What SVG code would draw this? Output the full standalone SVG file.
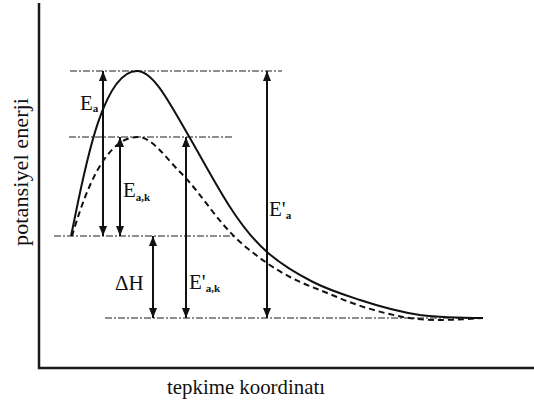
<svg xmlns="http://www.w3.org/2000/svg" width="534" height="405" viewBox="0 0 534 405">
<style>
.axis{stroke:#1a1a1a;stroke-width:2.5;fill:none}
.level{stroke:#6a6a6a;stroke-width:1.5;stroke-dasharray:7 2 2 2;fill:none}
.solid{stroke:#111;stroke-width:2;fill:none}
.dash{stroke:#111;stroke-width:2;fill:none;stroke-dasharray:6 4}
.arr{stroke:#111;stroke-width:2;fill:none;marker-start:url(#ah);marker-end:url(#ah)}
.lbl{font-family:"Liberation Serif","DejaVu Serif",serif;font-size:21px;fill:#111}
.sub{font-size:11px;font-weight:bold}
.title{font-family:"Liberation Serif","DejaVu Serif",serif;font-size:21px;fill:#111}
</style>
<defs>
<marker id="ah" markerUnits="userSpaceOnUse" markerWidth="10" markerHeight="8" refX="10" refY="4" orient="auto-start-reverse" viewBox="0 0 10 8">
<path d="M0,0 L10,4 L0,8 z" fill="#111"/>
</marker>
</defs>
<rect width="534" height="405" fill="#fff"/>
<g id="axes">
<path class="axis" d="M39,3 V368 H534"/>
</g>
<g id="levels">
<line class="level" x1="70" y1="71" x2="282" y2="71"/>
<line class="level" x1="69" y1="137" x2="233" y2="137"/>
<line class="level" x1="54" y1="236" x2="233" y2="236"/>
<line class="level" x1="105" y1="318" x2="483" y2="318"/>
</g>
<g id="curves">
<path class="solid" d="M71,236 C82,185 100,71 137,71 C153.7,71 170.3,104.6 187,133 C201.3,157.4 215.7,184.7 230,207 C242.3,226.2 254.7,241.2 267,252 C282.3,265.5 297.7,274.2 313,282 C328.7,290 344.3,294.8 360,300 C380,306.6 400,312 420,315 C441,317.6 462,318 483,318"/>
<path class="dash" d="M72,236 C84,196 104,137 138,137 C152,137 166,158 180,172 C191,183 202,197.7 213,212 C224.3,226.7 235.7,238.8 247,248 C261.3,259.6 275.7,269.6 290,277 C305.7,285.2 321.3,290.3 337,297 C359,306.5 381,312.6 403,317 C430,322 460,319.5 483,318"/>
</g>
<g id="connectors">
<line class="arr" x1="103" y1="236" x2="103" y2="71"/>
<line class="arr" x1="120" y1="236" x2="120" y2="137"/>
<line class="arr" x1="153" y1="318" x2="153" y2="236"/>
<line class="arr" x1="186" y1="318" x2="186" y2="137"/>
<line class="arr" x1="267" y1="318" x2="267" y2="71"/>
</g>
<g id="labels">
<text class="lbl" x="80" y="110">E<tspan class="sub" dy="2">a</tspan></text>
<text class="lbl" x="123" y="197">E<tspan class="sub" font-size="13" dy="4">a,k</tspan></text>
<text class="lbl" x="269" y="216">E'<tspan class="sub" dy="3">a</tspan></text>
<text class="lbl" x="115" y="290">ΔH</text>
<text class="lbl" x="189" y="289">E'<tspan class="sub" font-size="13" dy="3">a,k</tspan></text>
</g>
<g id="axis-titles">
<text class="title" transform="translate(28,172) rotate(-90)" text-anchor="middle" textLength="148" lengthAdjust="spacingAndGlyphs">potansiyel enerji</text>
<text class="title" x="246" y="394" text-anchor="middle" textLength="158" lengthAdjust="spacingAndGlyphs">tepkime koordinatı</text>
</g>
</svg>
